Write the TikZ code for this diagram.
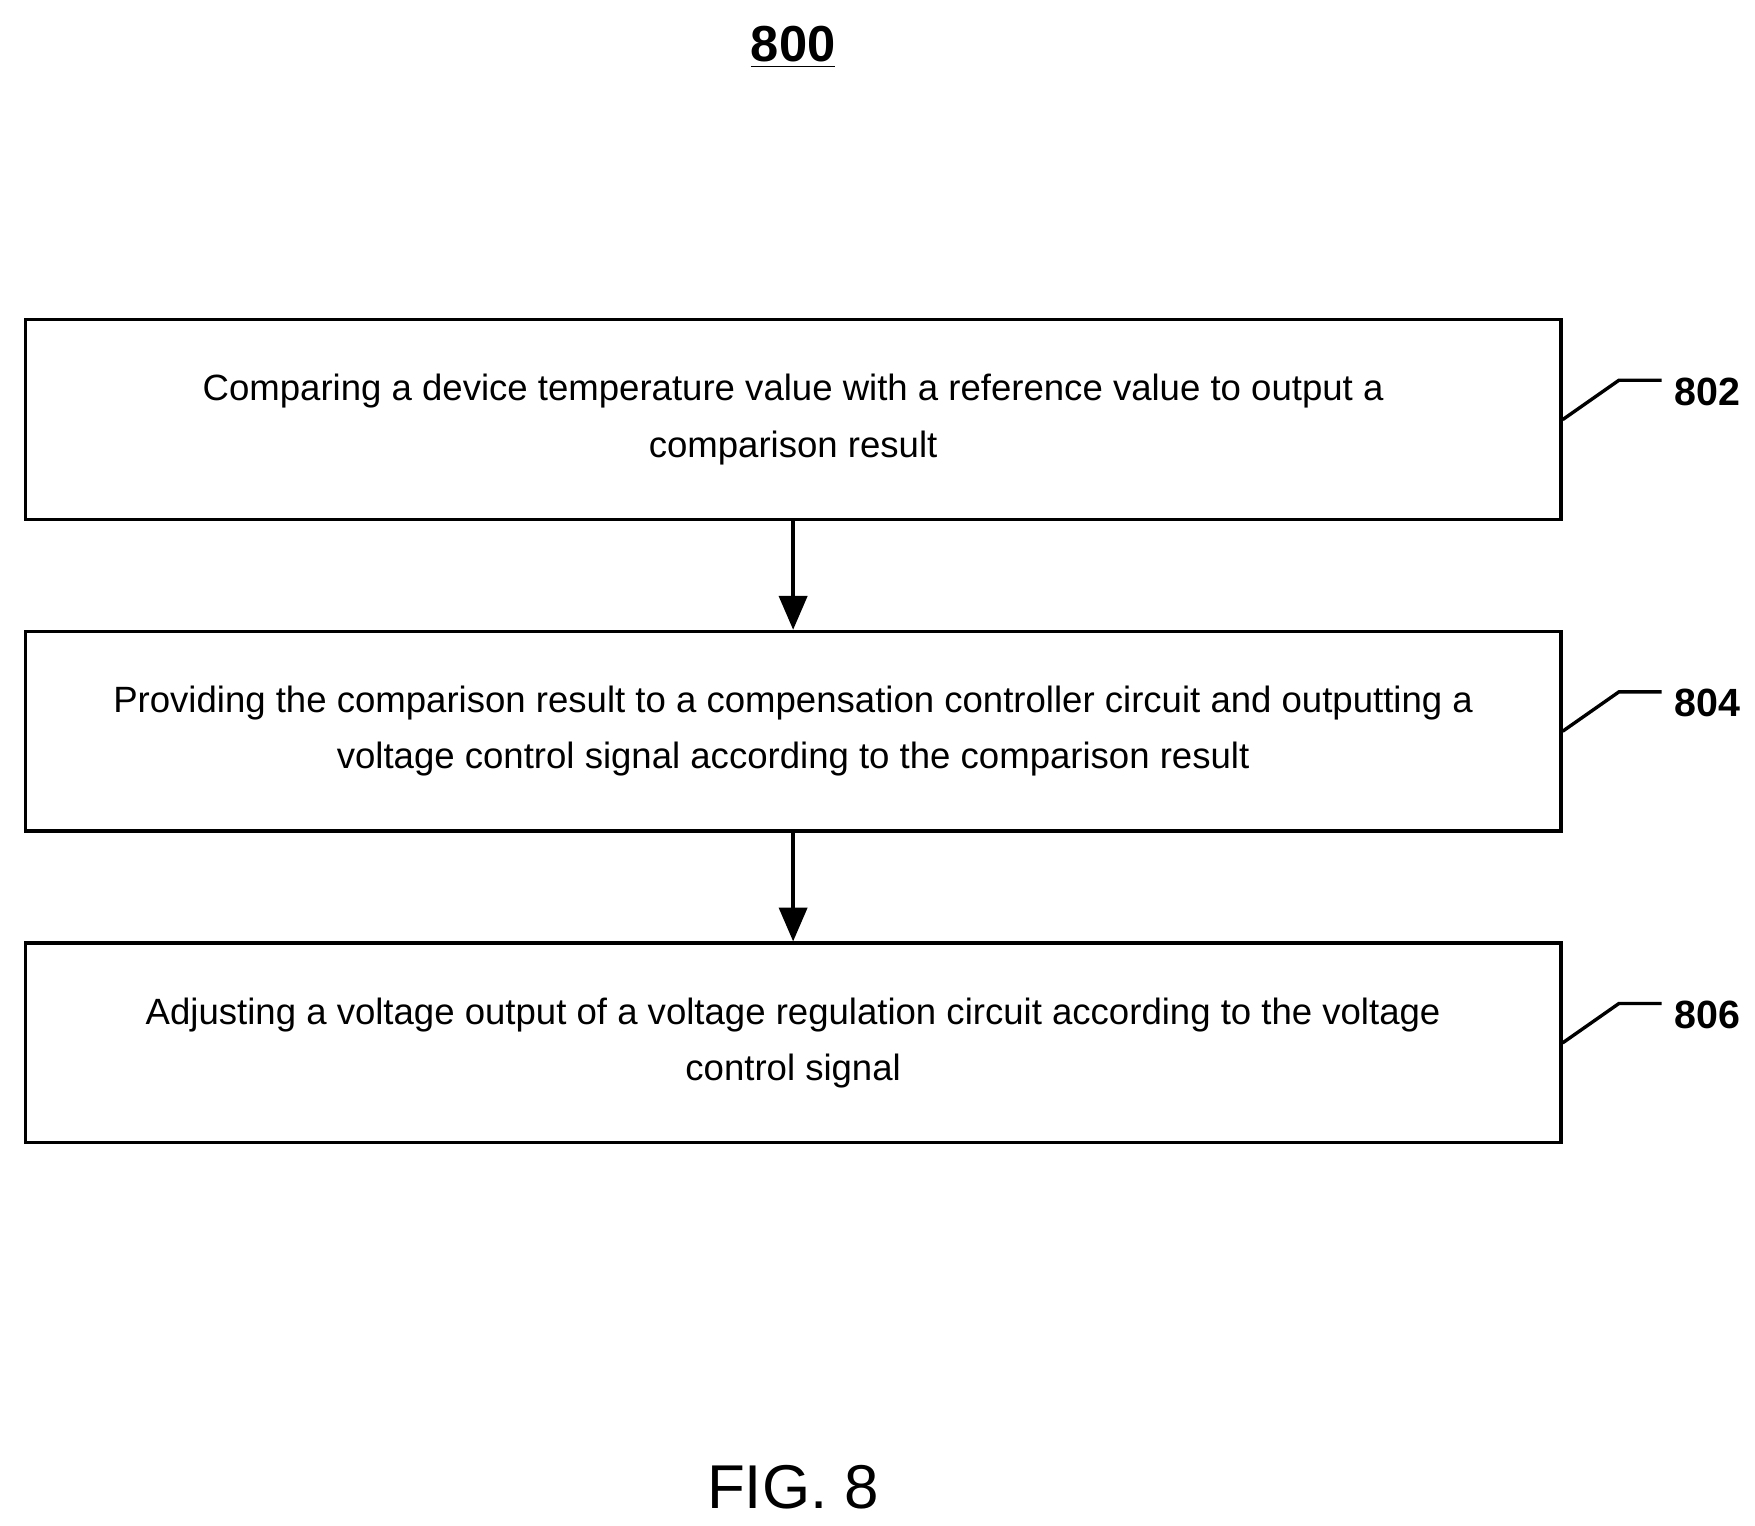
\documentclass[tikz,border=0pt]{standalone}
\usepackage{fontspec}
\setmainfont{Liberation Sans}
\usetikzlibrary{arrows.meta}
\begin{document}
\begin{tikzpicture}[x=0.4pt,y=0.4pt,yscale=-1,xscale=1,
  stepbox/.style={draw,line width=1.2pt,minimum width=546pt,minimum height=71pt,align=center,font=\fontsize{13}{20}\selectfont},
  flow/.style={line width=1.2pt,-{Triangle[length=12pt,width=10pt]}},
  lead/.style={line width=1.2pt}]
	\useasboundingbox (0,0) rectangle (1560,1356);
	\node (title) at (705,42) {\fontsize{18}{20}\selectfont\bfseries\underline{800}};
	\node[stepbox] (s802) at (705,373) {Comparing a device temperature value with a reference value to output a\\comparison result};
	\node[stepbox] (s804) at (705,650) {Providing the comparison result to a compensation controller circuit and outputting a\\voltage control signal according to the comparison result};
	\node[stepbox] (s806) at (705,927) {Adjusting a voltage output of a voltage regulation circuit according to the voltage\\control signal};
	\draw[flow] (s802) -- (s804);
	\draw[flow] (s804) -- (s806);
	\node[font=\fontsize{14}{16}\selectfont\bfseries] (l802) at (1518,348) {802};
	\node[font=\fontsize{14}{16}\selectfont\bfseries] (l804) at (1518,625) {804};
	\node[font=\fontsize{14}{16}\selectfont\bfseries] (l806) at (1518,902) {806};
	\draw[lead] (s802.east) -- ++(50,-35) -- ++(38,0);
	\draw[lead] (s804.east) -- ++(50,-35) -- ++(38,0);
	\draw[lead] (s806.east) -- ++(50,-35) -- ++(38,0);
	\node (fig) at (705,1322) {\fontsize{22}{24}\selectfont FIG. 8};
\end{tikzpicture}
\end{document}
